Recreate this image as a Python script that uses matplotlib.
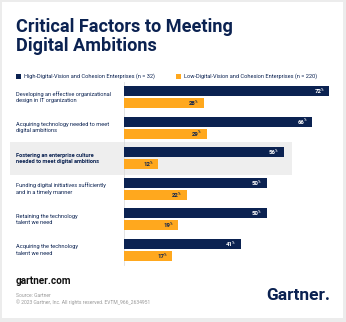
import matplotlib
matplotlib.use("Agg")
import matplotlib.pyplot as plt
from matplotlib.patches import Rectangle

# survey results, percent of respondents
factors = [
    "Developing an effective organizational\ndesign in IT organization",
    "Acquiring technology needed to meet\ndigital ambitions",
    "Fostering an enterprise culture\nneeded to meet digital ambitions",
    "Funding digital initiatives sufficiently\nand in a timely manner",
    "Retaining the technology\ntalent we need",
    "Acquiring the technology\ntalent we need",
]
high_vals = [72, 66, 56, 50, 50, 41]
low_vals = [28, 29, 12, 22, 19, 17]
highlight = 2

high_name = "High-Digital-Vision and Cohesion Enterprises (n = 32)"
low_name = "Low-Digital-Vision and Cohesion Enterprises (n = 220)"

navy = "#0b2251"
gold = "#ffa81e"
W, H = 346, 322

plt.rcParams["font.family"] = ["Roboto", "DejaVu Sans"]

fig = plt.figure(figsize=(W / 100, H / 100), dpi=100)
fig.patch.set_facecolor("#ececec")


def fx(px):
    return px / W


def fy(py):
    return 1 - py / H


# white card
fig.patches.append(Rectangle((fx(2), fy(318)), fx(341), 316 / H,
                             transform=fig.transFigure, facecolor="white",
                             edgecolor="none", zorder=0))

# title
fig.text(fx(16), fy(32), "Critical Factors to Meeting", fontsize=13.1,
         fontweight="bold", color=navy, va="baseline")
fig.text(fx(16), fy(51), "Digital Ambitions", fontsize=13.1,
         fontweight="bold", color=navy, va="baseline")

# legend
fig.patches.append(Rectangle((fx(16), fy(78.5)), fx(5), 5 / H,
                             transform=fig.transFigure, facecolor=navy, zorder=2))
fig.text(fx(24), fy(76), high_name, fontsize=4.1, color=navy, va="center")
fig.patches.append(Rectangle((fx(176), fy(78.5)), fx(5), 5 / H,
                             transform=fig.transFigure, facecolor=gold, zorder=2))
fig.text(fx(184), fy(76), low_name, fontsize=4.1, color=navy, va="center")

# highlighted row background
top_c, pitch = 97, 30.6
hy = top_c + highlight * pitch
fig.patches.append(Rectangle((fx(10), fy(hy + 16.5)), fx(282), 33 / H,
                             transform=fig.transFigure, facecolor="#eeeeee",
                             edgecolor="none", zorder=1))

# bars
px_per_pct = 2.85
xmax = 75
n = len(factors)
ax_top = top_c - pitch / 2
ax_h = pitch * n
ax = fig.add_axes([fx(124), fy(ax_top + ax_h), fx(xmax * px_per_pct), ax_h / H])
ax.set_zorder(5)
ax.patch.set_alpha(0)
ax.set_xlim(0, xmax)
ax.set_ylim(n - 0.5, -0.5)

bh = 10 / pitch
off = 6 / pitch
ys = list(range(n))
ax.barh([y - off for y in ys], high_vals, height=bh, color=navy, zorder=3)
ax.barh([y + off for y in ys], low_vals, height=bh, color=gold, zorder=3)


def value_label(v, y, color):
    ax.annotate(str(v), (v, y), xytext=(-5.8, -0.3), textcoords="offset points",
                ha="right", va="center", fontsize=4.3, fontweight="bold",
                color=color, zorder=4)
    ax.annotate("%", (v, y), xytext=(-4.4, 0.8), textcoords="offset points",
                ha="right", va="center", fontsize=2.4, fontweight="bold",
                color=color, zorder=4)


for y, v in zip(ys, high_vals):
    value_label(v, y - off, "white")
for y, v in zip(ys, low_vals):
    value_label(v, y + off, navy)

for s in ["top", "right", "bottom"]:
    ax.spines[s].set_visible(False)
ax.spines["left"].set_color("#d8d8d8")
ax.spines["left"].set_linewidth(0.5)
ax.set_xticks([])
ax.set_yticks([])

# category labels
for i, lab in enumerate(factors):
    fig.text(fx(16.5), fy(top_c + i * pitch), lab, fontsize=4.1, color=navy,
             va="center", linespacing=1.35,
             fontweight="bold" if i == highlight else "normal", zorder=6)

# footer
fig.text(fx(16), fy(284), "gartner.com", fontsize=7.2, fontweight="bold",
         color="#111111", va="baseline")
fig.text(fx(16), fy(297), "Source: Gartner", fontsize=3.6, color="#999999",
         va="baseline")
fig.text(fx(16), fy(304), "\u00a9 2023 Gartner, Inc. All rights reserved. EVTM_966_2634951",
         fontsize=3.6, color="#999999", va="baseline")
fig.text(fx(330), fy(300), "Gartner.", fontsize=12.5, fontweight="bold",
         color=navy, ha="right", va="baseline")

fig.savefig("out.png", dpi=100)
